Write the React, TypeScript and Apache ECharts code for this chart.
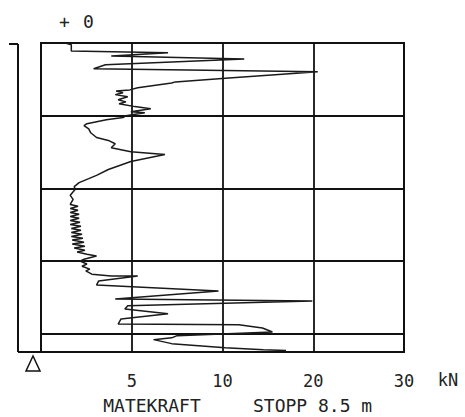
import React, { useEffect, useRef } from "react";
import * as echarts from "echarts";

// Depth (m) and ram force (kN)
const depth = [
  0.0, 0.05, 0.22, 0.27, 0.36, 0.44, 0.6, 0.71, 0.79, 0.96, 1.07, 1.1, 1.23, 1.29, 1.32, 1.37, 1.42, 1.48,
  1.56, 1.62, 1.67, 1.75, 1.81, 1.89, 1.92, 2.0, 2.05, 2.11, 2.22, 2.27, 2.36, 2.47, 2.6, 2.68, 2.77, 2.88,
  2.99, 3.07, 3.26, 3.48, 3.64, 3.73, 3.84, 3.95, 4.03, 4.19, 4.3, 4.44, 4.49, 4.55, 4.6, 4.66, 4.71, 4.77,
  4.82, 4.88, 4.93, 4.99, 5.04, 5.1, 5.15, 5.21, 5.26, 5.32, 5.37, 5.42, 5.48, 5.53, 5.59, 5.64, 5.7, 5.75,
  5.81, 5.86, 5.95, 6.0, 6.08, 6.14, 6.22, 6.27, 6.36, 6.41, 6.41, 6.55, 6.66, 6.82, 7.04, 7.1, 7.23, 7.32,
  7.45, 7.59, 7.73, 7.75, 7.84, 7.95, 8.05, 8.11, 8.16, 8.27, 8.38, 8.44, 8.46,
];
const force = [
  1.34, 1.67, 1.67, 7.0, 3.87, 12.4, 3.55, 2.9, 20.5, 10.7, 7.4, 7.2, 5.33, 4.89, 4.14, 4.52, 4.09, 4.78,
  4.25, 4.68, 4.3, 5.17, 6.05, 4.95, 5.72, 4.68, 4.52, 3.6, 2.53, 2.37, 2.63, 2.74, 3.06, 3.71, 4.09, 3.87,
  4.95, 6.83, 4.95, 3.71, 3.06, 2.63, 2.1, 1.83, 1.88, 1.61, 1.77, 1.61, 2.04, 1.61, 2.04, 1.61, 2.1, 1.61,
  2.1, 1.61, 2.15, 1.61, 2.2, 1.67, 2.2, 1.67, 2.26, 1.67, 2.31, 1.72, 2.37, 1.72, 2.42, 1.83, 2.42, 1.99,
  2.53, 3.06, 2.37, 2.15, 2.53, 2.26, 2.69, 2.47, 2.8, 3.87, 5.33, 3.17, 3.06, 9.78, 4.09, 19.9, 4.78, 4.62,
  7.0, 4.41, 4.25, 11.8, 14.4, 15.5, 7.5, 7.2, 6.2, 7.2, 10.3, 14.5, 17.0,
];

// Force-axis breakpoints: equally spaced grid lines at 0, 5, 10, 20, 30 kN
const forceTicks = [0, 5, 10, 20, 30];
const forceTickLabels = ["", "5", "10", "20", "30"];

function toAxis(k: number): number {
  for (let i = 1; i < forceTicks.length; i++) {
    if (k <= forceTicks[i]) {
      return i - 1 + (k - forceTicks[i - 1]) / (forceTicks[i] - forceTicks[i - 1]);
    }
  }
  return forceTicks.length - 1;
}

const FONT = "'DejaVu Sans Mono', 'Liberation Mono', monospace";

export default function App() {
  const ref = useRef<HTMLDivElement>(null);
  useEffect(() => {
    if (!ref.current) return;
    const chart = echarts.init(ref.current, null, { renderer: "svg" });
    const data = depth.map((d, i) => [toAxis(force[i]), d]);
    chart.setOption({
      animation: false,
      backgroundColor: "#ffffff",
      grid: {
        left: 41,
        right: 61,
        top: 43,
        bottom: 65,
        show: true,
        borderColor: "#111",
        borderWidth: 2,
      },
      xAxis: {
        type: "value",
        min: 0,
        max: 4,
        interval: 1,
        axisLine: { show: false },
        axisTick: { show: false },
        splitLine: { show: true, lineStyle: { color: "#111", width: 1.8 } },
        axisLabel: {
          show: true,
          margin: 20,
          fontFamily: FONT,
          fontSize: 17,
          color: "#222",
          formatter: (v: number) => forceTickLabels[Math.round(v)] ?? "",
        },
      },
      yAxis: {
        type: "value",
        inverse: true,
        min: 0,
        max: 8.5,
        interval: 2,
        axisLine: { show: false },
        axisTick: { show: false },
        axisLabel: { show: false },
        splitLine: { show: true, lineStyle: { color: "#111", width: 1.8 } },
      },
      series: [
        {
          type: "line",
          data,
          symbol: "none",
          lineStyle: { color: "#1a1a1a", width: 1.5 },
        },
      ],
      graphic: [
        { type: "line", shape: { x1: 9, y1: 44, x2: 18, y2: 44 }, style: { stroke: "#111", lineWidth: 2 } },
        { type: "line", shape: { x1: 18, y1: 44, x2: 18, y2: 352 }, style: { stroke: "#111", lineWidth: 2 } },
        { type: "line", shape: { x1: 18, y1: 352, x2: 41, y2: 352 }, style: { stroke: "#111", lineWidth: 2 } },
        {
          type: "polygon",
          shape: { points: [[33, 356], [26, 371], [40, 371]] },
          style: { stroke: "#111", fill: "none", lineWidth: 1.5 },
        },
        {
          type: "text",
          x: 59,
          y: 21,
          style: { text: "+", font: `18px ${FONT}`, fill: "#222", textVerticalAlign: "middle" },
        },
        {
          type: "text",
          x: 83,
          y: 21,
          style: { text: "0", font: `18px ${FONT}`, fill: "#222", textVerticalAlign: "middle" },
        },
        {
          type: "text",
          x: 448,
          y: 380,
          style: { text: "kN", font: `17px ${FONT}`, fill: "#222", textAlign: "center", textVerticalAlign: "middle" },
        },
        {
          type: "text",
          x: 152,
          y: 405,
          style: { text: "MATEKRAFT", font: `18px ${FONT}`, fill: "#222", textAlign: "center", textVerticalAlign: "middle" },
        },
        {
          type: "text",
          x: 253,
          y: 405,
          style: { text: "STOPP 8.5 m", font: `18px ${FONT}`, fill: "#222", textAlign: "left", textVerticalAlign: "middle" },
        },
      ],
    });
    return () => chart.dispose();
  }, []);
  return (
    <div
      ref={ref}
      style={{ position: "fixed", left: 0, top: 0, width: 465, height: 417, background: "#fff" }}
    />
  );
}
